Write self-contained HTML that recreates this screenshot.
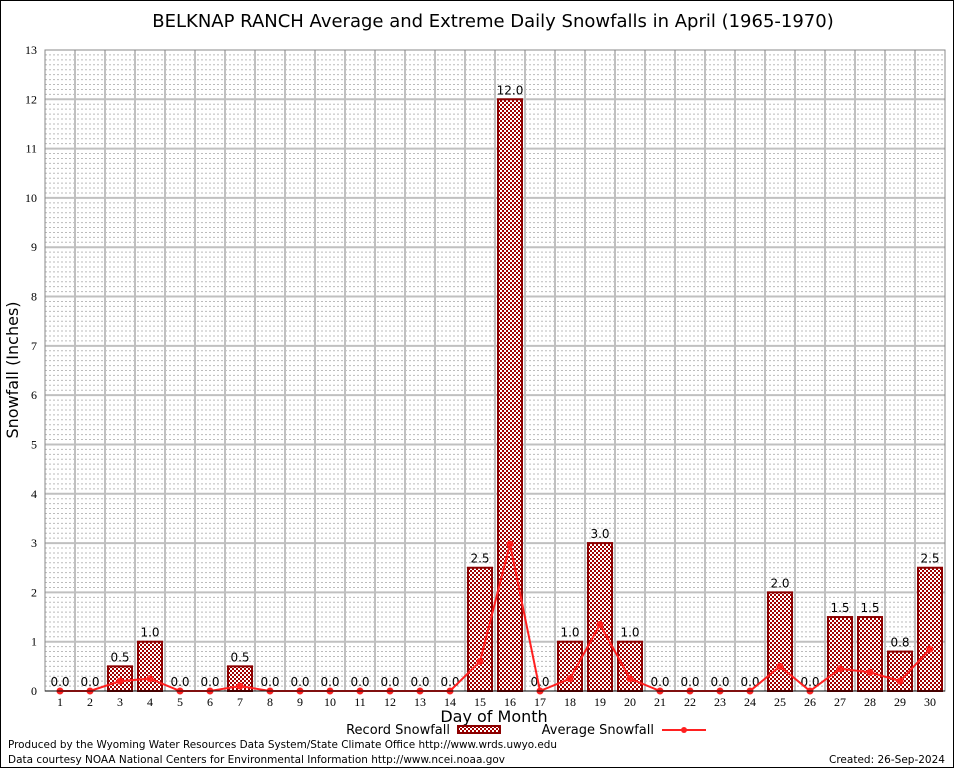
<!DOCTYPE html>
<html><head><meta charset="utf-8"><style>
body{margin:0;background:#fff}
svg{display:block;font-family:"DejaVu Sans","Liberation Sans",sans-serif}
.tk{font-family:"Liberation Serif",serif;font-size:12px}
</style></head><body>
<svg id="chart" width="954" height="768">
<defs><pattern id="chk" width="4" height="4" patternUnits="userSpaceOnUse"><rect width="4" height="4" fill="#fff"/><rect width="2" height="2" fill="#a00000"/><rect x="2" y="2" width="2" height="2" fill="#a00000"/></pattern></defs>
<rect x="0.5" y="0.5" width="953" height="767" fill="#fff" stroke="#000"/>
<text x="493" y="27" font-size="18" text-anchor="middle">BELKNAP RANCH Average and Extreme Daily Snowfalls in April (1965-1970)</text>
<g id="grid"></g><g id="bars"></g><g id="line"></g><g id="axes"></g>
<text x="18" y="370" font-size="16" text-anchor="middle" transform="rotate(-90 18 370)">Snowfall (Inches)</text>
<text x="494" y="722" font-size="16" text-anchor="middle">Day of Month</text>
<g><text x="450" y="734" font-size="13" text-anchor="end">Record Snowfall</text><rect x="458" y="726" width="42" height="7" fill="url(#chk)" stroke="#8b0000" stroke-width="2"/></g>
<g><text x="654" y="734" font-size="13" text-anchor="end">Average Snowfall</text><line x1="662" y1="730" x2="706" y2="730" stroke="#ff2020" stroke-width="2"/><circle cx="684" cy="730" r="3" fill="#ff2020"/></g>
<text x="8" y="748" font-size="11" textLength="549" lengthAdjust="spacingAndGlyphs">Produced by the Wyoming Water Resources Data System/State Climate Office http://www.wrds.uwyo.edu</text>
<text x="8" y="763" font-size="11" textLength="497" lengthAdjust="spacingAndGlyphs">Data courtesy NOAA National Centers for Environmental Information http://www.ncei.noaa.gov</text>
<text x="945" y="763" font-size="11" text-anchor="end" textLength="116" lengthAdjust="spacingAndGlyphs">Created:  26-Sep-2024</text>
</svg>
<script>
const days=[1,2,3,4,5,6,7,8,9,10,11,12,13,14,15,16,17,18,19,20,21,22,23,24,25,26,27,28,29,30];
const recordVals=[0,0,0.5,1,0,0,0.5,0,0,0,0,0,0,0,2.5,12,0,1,3,1,0,0,0,0,2,0,1.5,1.5,0.8,2.5];
const avgVals=[0,0,0.2,0.25,0,0,0.1,0,0,0,0,0,0,0,0.6,2.98,0,0.25,1.35,0.25,0,0,0,0,0.5,0,0.45,0.38,0.2,0.85];
const yTicks=[0,1,2,3,4,5,6,7,8,9,10,11,12,13];
const L=45,R=945,T=50,B=691,YMAX=13;
const x=d=>L+(d-0.5)*(R-L)/30;
const y=v=>B-v*(B-T)/YMAX;
const NS="http://www.w3.org/2000/svg";
function mk(p,t,a){const e=document.createElementNS(NS,t);for(const k in a)e.setAttribute(k,a[k]);p.appendChild(e);return e;}
const g=document.getElementById('grid');
for(let i=1;i<130;i++){if(i%10==0)continue;const ln=mk(g,'line',{x1:L,x2:R,y1:y(i/10),y2:y(i/10),stroke:'#bbb','stroke-dasharray':'2,2','stroke-width':1});

}
for(let d=1;d<30;d++){const ln=mk(g,'line',{x1:L+d*30,x2:L+d*30,y1:T,y2:B,stroke:'#c0c0c0','stroke-width':2});

}
const ax=document.getElementById('axes');
yTicks.forEach(v=>{if(v>0&&v<13){const ln=mk(g,'line',{x1:L,x2:R,y1:y(v),y2:y(v),stroke:'#c0c0c0','stroke-width':2});

}
const t=mk(ax,'text',{x:L-8,y:y(v)+4,'text-anchor':'end',class:'tk'});t.textContent=v;

});
const bg=document.getElementById('bars');
days.forEach((d,i)=>{const v=recordVals[i];
if(v>0){const r=mk(bg,'rect',{x:x(d)-12,y:y(v),width:24,height:B-y(v),fill:'url(#chk)',stroke:'#8b0000','stroke-width':2});

}
const t=mk(bg,'text',{x:x(d),y:y(v)-5,'text-anchor':'middle','font-size':12});t.textContent=v.toFixed(1);


const xt=mk(ax,'text',{x:x(d),y:B+15,'text-anchor':'middle',class:'tk'});xt.textContent=d;

});
const lg=document.getElementById('line');
const pl=mk(lg,'polyline',{points:days.map((d,i)=>x(d)+','+y(avgVals[i])).join(' '),fill:'none',stroke:'#ff2020','stroke-width':2});


days.forEach((d,i)=>{const c=mk(lg,'circle',{cx:x(d),cy:y(avgVals[i]),r:3.5,fill:'#ff2020'});

});
const fr=mk(ax,'rect',{x:L,y:T,width:R-L,height:B-T,fill:'none',stroke:'#888','stroke-width':1});


const xa=mk(ax,'line',{x1:L,x2:R,y1:B,y2:B,stroke:'#000','stroke-width':1});


</script>
</body></html>
